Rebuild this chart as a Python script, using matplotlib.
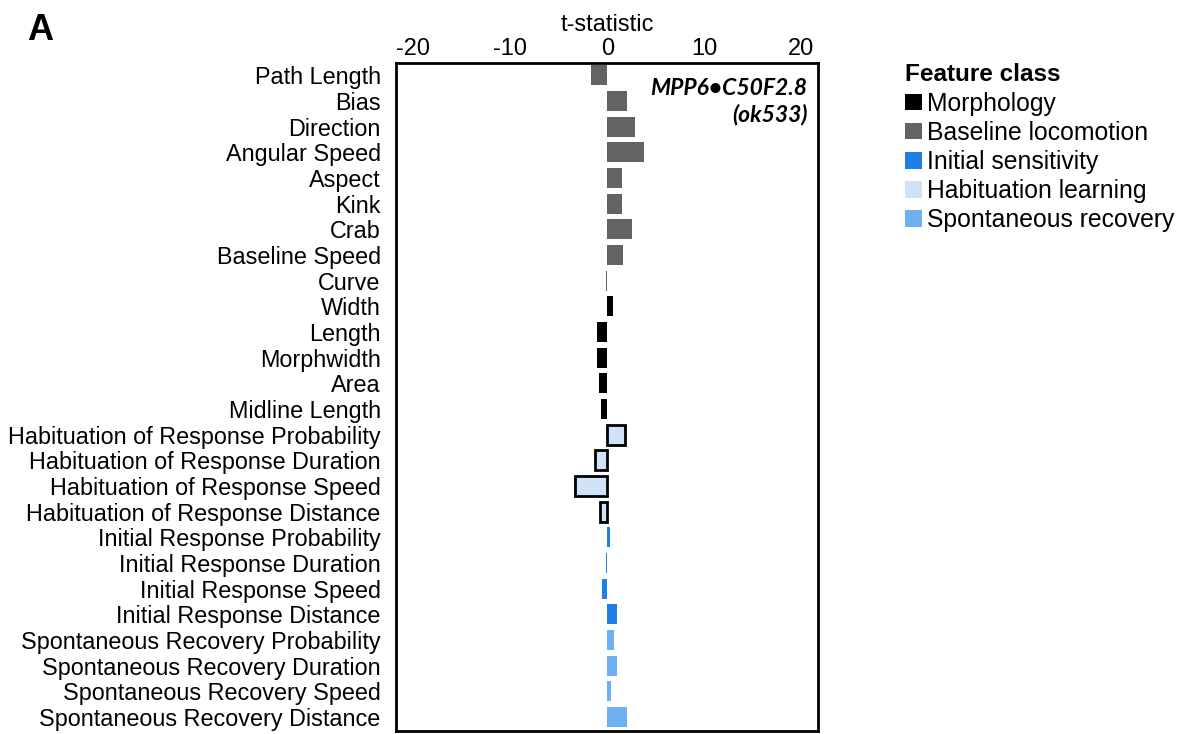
import numpy as np
import matplotlib.pyplot as plt
from matplotlib.patches import Patch

plt.rcParams["font.family"] = ["Liberation Sans", "DejaVu Sans"]
plt.rcParams["axes.unicode_minus"] = False

features = ["Path Length", "Bias", "Direction", "Angular Speed", "Aspect", "Kink",
            "Crab", "Baseline Speed", "Curve", "Width", "Length", "Morphwidth", "Area",
            "Midline Length", "Habituation of Response Probability",
            "Habituation of Response Duration", "Habituation of Response Speed",
            "Habituation of Response Distance", "Initial Response Probability",
            "Initial Response Duration", "Initial Response Speed",
            "Initial Response Distance", "Spontaneous Recovery Probability",
            "Spontaneous Recovery Duration", "Spontaneous Recovery Speed",
            "Spontaneous Recovery Distance"]
t_stat = [-1.65, 2.0, 2.8, 3.8, 1.45, 1.55, 2.55, 1.6, -0.2, 0.55,
          -1.1, -1.05, -0.85, -0.7, 1.85, -1.3, -3.3, -0.75,
          0.3, -0.1, -0.6, 0.95, 0.65, 1.0, 0.35, 2.0]
feature_class = (["Baseline locomotion"] * 9 + ["Morphology"] * 5
                 + ["Habituation learning"] * 4 + ["Initial sensitivity"] * 4
                 + ["Spontaneous recovery"] * 4)

class_names = ["Morphology", "Baseline locomotion", "Initial sensitivity",
               "Habituation learning", "Spontaneous recovery"]
class_colors = {"Morphology": "#000000", "Baseline locomotion": "#636363",
                "Initial sensitivity": "#1f7fe6", "Habituation learning": "#cfe2f7",
                "Spontaneous recovery": "#6eb0f0"}

fig = plt.figure(figsize=(11.82, 7.34), dpi=100)
ax = fig.add_axes([0.335, 0.004, 0.357, 0.910])

y = np.arange(len(features))
for yi, v, c in zip(y, t_stat, feature_class):
    if c == "Habituation learning":
        ax.barh(yi, v, height=0.78, color=class_colors[c], edgecolor="black", linewidth=2)
    else:
        ax.barh(yi, v, height=0.78, color=class_colors[c], edgecolor="none")

ax.set_xlim(-21.8, 21.7)
ax.set_ylim(25.55, -0.47)
ax.set_yticks(y)
ax.set_yticklabels(features, fontsize=16.8)
ax.tick_params(axis="y", length=0, pad=11)
ax.xaxis.tick_top()
ax.xaxis.set_label_position("top")
ax.set_xticks([-20, -10, 0, 10, 20])
ax.tick_params(axis="x", length=0, labelsize=17, pad=2)
ax.set_xlabel("t-statistic", fontsize=17, labelpad=5)
for s in ax.spines.values():
    s.set_linewidth(2)

ax.text(0.975, 0.978, "MPP6\u2022C50F2.8\n(ok533)", transform=ax.transAxes,
        ha="right", va="top", fontsize=16.5, fontweight="bold", style="italic",
        family=["Lato", "DejaVu Sans"], linespacing=1.3)

handles = [Patch(facecolor=class_colors[n], edgecolor="none", label=n) for n in class_names]
leg = fig.legend(handles=handles, title="Feature class", loc="upper left",
                 bbox_to_anchor=(0.757, 0.927), frameon=False, fontsize=17.8,
                 title_fontsize=17.5, handlelength=0.7, handleheight=0.65,
                 handletextpad=0.2, labelspacing=0.21, borderaxespad=0,
                 alignment="left")
leg.get_title().set_fontweight("bold")

fig.text(0.023, 0.982, "A", fontsize=26, fontweight="bold", va="top", ha="left")

fig.savefig("out.png", dpi=100)
